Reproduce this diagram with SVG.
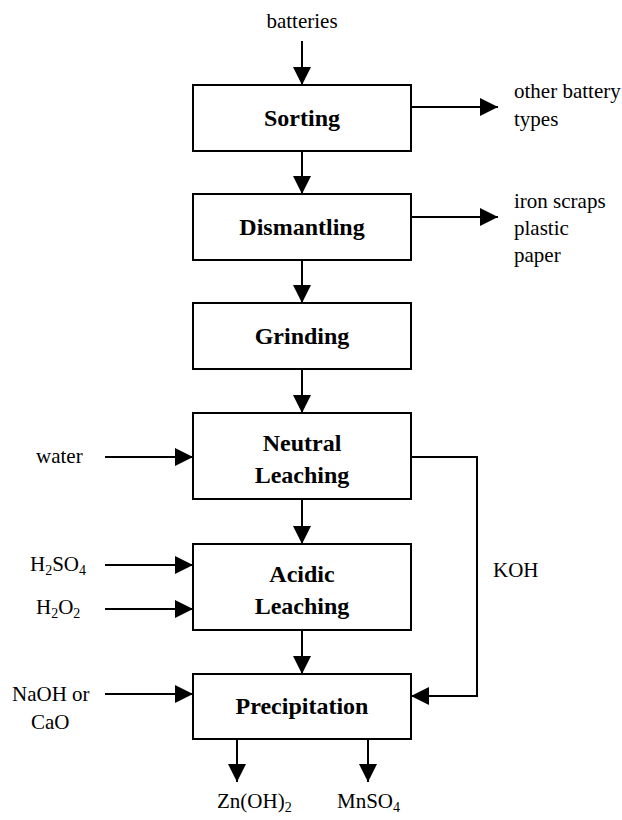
<svg xmlns="http://www.w3.org/2000/svg" width="622" height="820" viewBox="0 0 622 820">
<style>
.box{fill:#fff;stroke:#000;stroke-width:2}
.t{font-family:"Liberation Serif","Times New Roman",serif;font-size:21px;fill:#000}
.b{font-family:"Liberation Serif","Times New Roman",serif;font-size:24px;font-weight:bold;fill:#000;text-anchor:middle}
.c{fill:none;stroke:#000;stroke-width:2}
</style>
<defs>
<marker id="ah" markerUnits="userSpaceOnUse" markerWidth="18" markerHeight="18" refX="18" refY="9" orient="auto">
<path d="M0,0 L18,9 L0,18 Z" fill="#000"/>
</marker>
</defs>
<rect width="622" height="820" fill="#fff"/>
<g id="connectors">
<line class="c" x1="302" y1="41" x2="302" y2="85" marker-end="url(#ah)"/>
<line class="c" x1="302" y1="151" x2="302" y2="194" marker-end="url(#ah)"/>
<line class="c" x1="302" y1="260" x2="302" y2="303" marker-end="url(#ah)"/>
<line class="c" x1="302" y1="369" x2="302" y2="413" marker-end="url(#ah)"/>
<line class="c" x1="302" y1="499" x2="302" y2="544" marker-end="url(#ah)"/>
<line class="c" x1="302" y1="630" x2="302" y2="674" marker-end="url(#ah)"/>
<line class="c" x1="411" y1="107" x2="498" y2="107" marker-end="url(#ah)"/>
<line class="c" x1="411" y1="217" x2="498" y2="217" marker-end="url(#ah)"/>
<line class="c" x1="105" y1="457" x2="193" y2="457" marker-end="url(#ah)"/>
<line class="c" x1="105" y1="565" x2="193" y2="565" marker-end="url(#ah)"/>
<line class="c" x1="105" y1="609" x2="193" y2="609" marker-end="url(#ah)"/>
<line class="c" x1="105" y1="694" x2="193" y2="694" marker-end="url(#ah)"/>
<path class="c" d="M411,457 H477 V696 H411" marker-end="url(#ah)"/>
<line class="c" x1="237" y1="739" x2="237" y2="782" marker-end="url(#ah)"/>
<line class="c" x1="368" y1="739" x2="368" y2="782" marker-end="url(#ah)"/>
</g>
<g id="sorting"><rect class="box" x="193" y="85" width="218" height="66"/><text class="b" x="302" y="126">Sorting</text></g>
<g id="dismantling"><rect class="box" x="193" y="194" width="218" height="66"/><text class="b" x="302" y="235">Dismantling</text></g>
<g id="grinding"><rect class="box" x="193" y="303" width="218" height="66"/><text class="b" x="302" y="344">Grinding</text></g>
<g id="neutral"><rect class="box" x="193" y="413" width="218" height="86"/><text class="b" x="302" y="451">Neutral</text><text class="b" x="302" y="483">Leaching</text></g>
<g id="acidic"><rect class="box" x="193" y="544" width="218" height="86"/><text class="b" x="302" y="582">Acidic</text><text class="b" x="302" y="614">Leaching</text></g>
<g id="precipitation"><rect class="box" x="193" y="674" width="218" height="65"/><text class="b" x="302" y="714">Precipitation</text></g>
<g id="labels">
<text class="t" x="302" y="28" text-anchor="middle">batteries</text>
<text class="t" x="514" y="98">other battery</text>
<text class="t" x="514" y="126">types</text>
<text class="t" x="514" y="208">iron scraps</text>
<text class="t" x="514" y="235">plastic</text>
<text class="t" x="514" y="262">paper</text>
<text class="t" x="36" y="463">water</text>
<text class="t" x="30" y="571">H<tspan font-size="14" dy="4">2</tspan><tspan dy="-4">SO</tspan><tspan font-size="14" dy="4">4</tspan></text>
<text class="t" x="36" y="614">H<tspan font-size="14" dy="4">2</tspan><tspan dy="-4">O</tspan><tspan font-size="14" dy="4">2</tspan></text>
<text class="t" x="12" y="701">NaOH or</text>
<text class="t" x="31" y="729">CaO</text>
<text class="t" x="493" y="577">KOH</text>
<text class="t" x="217" y="808">Zn(OH)<tspan font-size="14" dy="4">2</tspan></text>
<text class="t" x="337" y="808">MnSO<tspan font-size="14" dy="4">4</tspan></text>
</g>
</svg>
